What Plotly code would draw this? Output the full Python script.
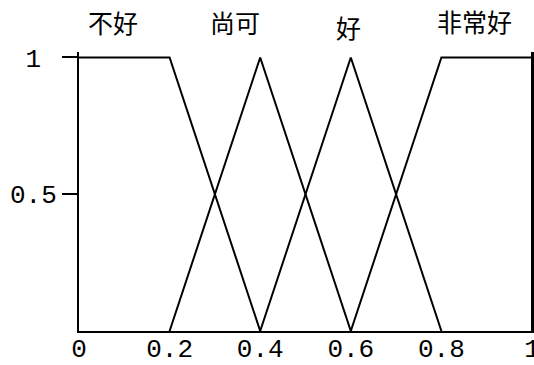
import plotly.graph_objects as go

# membership function breakpoints
categories = ["不好", "尚可", "好", "非常好"]
x_points = [
    [0.0, 0.2, 0.4],
    [0.2, 0.4, 0.6],
    [0.4, 0.6, 0.8],
    [0.6, 0.8, 1.0],
]
y_points = [
    [1, 1, 0],
    [0, 1, 0],
    [0, 1, 0],
    [0, 1, 1],
]
label_x = [0.075, 0.344, 0.595, 0.872]
label_shift = [10, 10, 5, 11]

x_tickvals = [0, 0.2, 0.4, 0.6, 0.8, 1]
x_ticktext = ["0", "0.2", "0.4", "0.6", "0.8", "1"]
y_tickvals = [0.5, 1]
y_ticktext = ["0.5", "1\u00a0"]

fig = go.Figure()
for xs, ys in zip(x_points, y_points):
    fig.add_trace(go.Scatter(x=xs, y=ys, mode="lines",
                             line=dict(color="black", width=2),
                             showlegend=False, hoverinfo="skip",
                             cliponaxis=False))

for name, lx, sh in zip(categories, label_x, label_shift):
    fig.add_annotation(x=lx, y=1.0, xref="x", yref="paper", yanchor="bottom",
                       yshift=sh, text=name, showarrow=False,
                       font=dict(family="Noto Sans CJK SC", size=25, color="black"))

# right-hand frame line
fig.add_shape(type="line", xref="paper", yref="paper", x0=1, x1=1, y0=0, y1=1,
              line=dict(color="black", width=2))

mono = "Liberation Mono"
fig.update_layout(
    width=534, height=365,
    margin=dict(l=79, r=2, t=52, b=34, autoexpand=False),
    paper_bgcolor="white", plot_bgcolor="white",
    xaxis=dict(range=[0, 1], tickvals=x_tickvals, ticktext=x_ticktext,
               showgrid=False, zeroline=False, showline=True, automargin=False,
               linecolor="black", linewidth=2, ticks="", ticklabelstandoff=-7,
               ticklabeloverflow="allow",
               tickfont=dict(family=mono, size=26, color="black")),
    yaxis=dict(range=[0, 1.02], tickvals=y_tickvals, ticktext=y_ticktext,
               showgrid=False, zeroline=False, showline=True, mirror=True,
               automargin=False,
               linecolor="black", linewidth=2, ticks="outside", ticklen=15,
               tickwidth=2, tickcolor="black",
               tickfont=dict(family=mono, size=26, color="black")),
)

fig.write_html(
    "out.html",
    config={"displayModeBar": False},
    post_script="document.body.style.margin='0';document.body.style.overflow='hidden';",
)
